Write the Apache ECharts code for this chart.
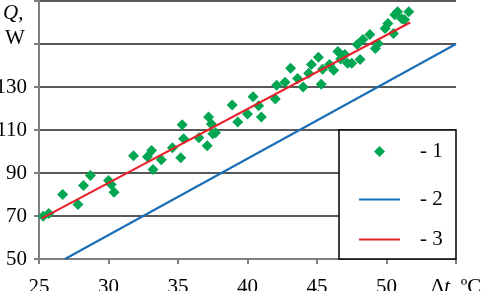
<!DOCTYPE html>
<html>
<head>
<meta charset="utf-8">
<script src="https://cdn.jsdelivr.net/npm/echarts@6/dist/echarts.min.js"></script>
<style>
  html, body { margin: 0; padding: 0; background: #fff; }
  #chart { width: 481px; height: 291px; }
</style>
</head>
<body>
<div id="chart"></div>
<script>
// measured points (series 1), Δt in °C, Q in W
const measured = [
  [25.3, 69.9], [25.7, 71.2], [26.7, 80.0], [27.8, 75.4], [28.2, 84.2], [28.7, 88.8],
  [30.0, 86.5], [30.2, 84.6], [30.4, 81.0], [31.8, 98.0], [32.8, 97.6], [33.1, 100.5],
  [33.2, 91.6], [33.8, 96.2], [34.6, 101.7], [35.2, 97.1], [35.3, 112.4], [35.4, 105.9],
  [36.5, 106.4], [37.1, 102.7], [37.2, 116.0], [37.4, 112.8], [37.5, 108.2], [37.7, 108.7],
  [38.9, 121.6], [39.3, 113.7], [40.0, 117.4], [40.4, 125.5], [40.8, 121.3], [41.0, 116.0],
  [42.0, 124.4], [42.1, 130.8], [42.7, 132.2], [43.1, 138.7], [43.6, 134.0], [44.0, 130.0],
  [44.4, 136.4], [44.6, 140.5], [45.1, 143.8], [45.3, 131.3], [45.4, 138.2], [45.9, 140.5],
  [46.2, 137.8], [46.5, 146.5], [46.7, 143.0], [47.0, 145.1], [47.2, 141.0], [47.5, 141.0],
  [48.1, 142.8], [47.9, 149.8], [48.3, 152.1], [48.8, 154.4], [49.2, 147.9], [49.4, 150.2],
  [49.9, 157.2], [50.1, 159.5], [50.5, 154.9], [50.6, 163.6], [50.8, 165.0], [51.1, 161.8],
  [51.3, 161.3], [51.6, 165.0]
];
// line 2 (blue) and line 3 (red, fit)
const line2 = [[26.87, 50], [55, 150]];
const line3 = [[25.2, 68.9], [51.7, 160]];
const seriesNames = ['1', '2', '3'];
const colors = ['#00a651', '#1a6fb6', '#e8202a'];
const font = 'Liberation Serif';

const chart = echarts.init(document.getElementById('chart'));

// one legend per entry so each row can sit where it does in the original
const legendTops = [141, 189, 229];
const legends = seriesNames.map((n, i) => ({
  data: [{ name: n, icon: i === 0 ? 'diamond' : 'rect' }],
  left: i === 0 ? 374 : 359,
  top: legendTops[i],
  padding: 0,
  itemWidth: i === 0 ? 11 : 41,
  itemHeight: i === 0 ? 11 : 2,
  itemStyle: { color: colors[i], borderWidth: 0 },
  selectedMode: false,
  z: 6,
  formatter: name => '- ' + name,
  textStyle: {
    fontFamily: font, fontSize: 21, color: '#000',
    padding: [0, 0, 0, i === 0 ? 30 : 15]
  }
}));

chart.setOption({
  animation: false,
  color: colors,
  grid: { left: 39, right: 25, top: 1, bottom: 32, outerBoundsMode: 'none', containLabel: false },
  legend: legends,
  graphic: [
    {
      type: 'rect',
      z: 3,
      shape: { x: 339, y: 130, width: 117, height: 129 },
      style: { fill: '#fff', stroke: '#000', lineWidth: 1.5 }
    },
    {
      type: 'text', left: 3, top: 3, z: 3,
      style: { text: 'Q,', font: 'italic 21px "Liberation Serif"', fill: '#000' }
    },
    {
      type: 'text', left: 5, top: 28, z: 3,
      style: { text: 'W', font: '21px "Liberation Serif"', fill: '#000' }
    }
  ],
  xAxis: {
    type: 'value',
    min: 25, max: 55, interval: 5,
    axisLine: { lineStyle: { color: '#7f7f7f', width: 2 } },
    axisTick: { show: true, length: 5, lineStyle: { color: '#7f7f7f', width: 2 } },
    splitLine: { show: false },
    axisLabel: {
      margin: 18,
      fontFamily: font, fontSize: 21, color: '#000',
      formatter: v => v === 55 ? '{a|Δ}{i|t}{a|, ºC}' : String(v),
      rich: {
        a: { fontFamily: font, fontSize: 21, color: '#000' },
        i: { fontFamily: font, fontSize: 21, fontStyle: 'italic', color: '#000' }
      }
    }
  },
  yAxis: {
    type: 'value',
    min: 50, max: 170, interval: 20,
    axisLine: { show: true, lineStyle: { color: '#7f7f7f', width: 2 } },
    axisTick: { show: true, length: 5, lineStyle: { color: '#7f7f7f', width: 2 } },
    splitLine: { show: true, lineStyle: { color: '#595959', width: 2 } },
    axisLabel: {
      margin: 12,
      fontFamily: font, fontSize: 21, color: '#000',
      formatter: v => (v >= 150 ? '' : String(v))
    }
  },
  series: [
    {
      name: seriesNames[0],
      type: 'scatter',
      symbol: 'diamond',
      symbolSize: 11,
      itemStyle: { color: colors[0], opacity: 1 },
      data: measured,
      z: 4
    },
    {
      name: seriesNames[1],
      type: 'line',
      symbol: 'none',
      lineStyle: { color: colors[1], width: 2.2 },
      data: line2,
      z: 4
    },
    {
      name: seriesNames[2],
      type: 'line',
      symbol: 'none',
      lineStyle: { color: colors[2], width: 2 },
      data: line3,
      z: 5
    }
  ]
});
</script>
</body>
</html>
